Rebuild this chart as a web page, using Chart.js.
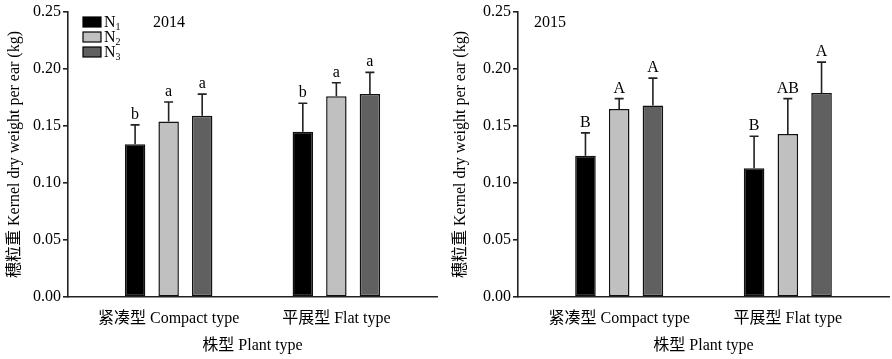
<!DOCTYPE html>
<html>
<head>
<meta charset="utf-8">
<script src="https://cdn.jsdelivr.net/npm/chart.js@4.4.1/dist/chart.umd.min.js"></script>
<style>
html, body { margin: 0; padding: 0; background: #fff; }
#wrap { position: relative; width: 892px; height: 359px; }
.panel { position: absolute; top: 0; width: 446px; height: 359px; }
</style>
</head>
<body>
<div id="wrap">
  <div class="panel" style="left:0"><canvas id="c2014" width="446" height="359"></canvas></div>
  <div class="panel" style="left:446px"><canvas id="c2015" width="446" height="359"></canvas></div>
</div>
<script>
// categories / series
const plantTypes = ['紧凑型 Compact type', '平展型 Flat type'];
const seriesNames = ['N1', 'N2', 'N3'];
const seriesColors = ['#000000', '#c0c0c0', '#606060'];
const yTicks = [0, 0.05, 0.10, 0.15, 0.20, 0.25];

// 2014
const n1_2014 = [0.134, 0.145];
const n2_2014 = [0.154, 0.176];
const n3_2014 = [0.159, 0.178];
const n1Err_2014 = [0.017, 0.025];
const n2Err_2014 = [0.017, 0.012];
const n3Err_2014 = [0.019, 0.019];
const n1Sig_2014 = ['b', 'b'];
const n2Sig_2014 = ['a', 'a'];
const n3Sig_2014 = ['a', 'a'];

// 2015
const n1_2015 = [0.124, 0.113];
const n2_2015 = [0.165, 0.143];
const n3_2015 = [0.168, 0.179];
const n1Err_2015 = [0.020, 0.028];
const n2Err_2015 = [0.009, 0.031];
const n3Err_2015 = [0.024, 0.027];
const n1Sig_2015 = ['B', 'B'];
const n2Sig_2015 = ['A', 'AB'];
const n3Sig_2015 = ['A', 'A'];

const FONT = "'Liberation Serif', 'Times New Roman', 'Noto Sans CJK SC', serif";
const AXIS = '#222';

// error bars, significance letters, year label, legend
const extrasPlugin = {
    id: 'extras',
    afterDatasetsDraw(chart, args, opts) {
        const ctx = chart.ctx;
        const yScale = chart.scales.y;
        const area = chart.chartArea;
        ctx.save();
        chart.data.datasets.forEach((ds, di) => {
            const meta = chart.getDatasetMeta(di);
            meta.data.forEach((bar, i) => {
                const v = ds.data[i].y;
                const top = yScale.getPixelForValue(v + ds.err[i]);
                ctx.strokeStyle = '#222';
                ctx.lineWidth = 1.6;
                ctx.beginPath();
                ctx.moveTo(bar.x, bar.y);
                ctx.lineTo(bar.x, top);
                ctx.moveTo(bar.x - 4.5, top);
                ctx.lineTo(bar.x + 4.5, top);
                ctx.stroke();
                ctx.fillStyle = '#000';
                ctx.font = '16px ' + FONT;
                ctx.textAlign = 'center';
                ctx.textBaseline = 'alphabetic';
                ctx.fillText(ds.sig[i], bar.x, top - 6);
            });
        });

        // year label
        ctx.font = '16px ' + FONT;
        ctx.textAlign = 'left';
        ctx.textBaseline = 'alphabetic';
        ctx.fillStyle = '#000';
        ctx.fillText(opts.year, area.left + opts.yearX, area.top + 15);

        if (opts.legend) {
            const x0 = area.left + 15;
            chart.data.datasets.forEach((ds, di) => {
                const y0 = area.top + 5 + di * 15;
                ctx.fillStyle = ds.backgroundColor;
                ctx.fillRect(x0, y0, 18, 10);
                ctx.strokeStyle = '#000';
                ctx.lineWidth = 1.2;
                ctx.strokeRect(x0, y0, 18, 10);
                ctx.fillStyle = '#000';
                ctx.font = '16px ' + FONT;
                ctx.fillText('N', x0 + 21, y0 + 10);
                const w = ctx.measureText('N').width;
                ctx.font = '10px ' + FONT;
                ctx.fillText(ds.label.slice(1), x0 + 21 + w, y0 + 13);
            });
        }
        ctx.restore();
    }
};

function makeChart(id, year, vals, errs, sigs, legend, padLeft, padRight, yearX) {
    const datasets = seriesNames.map((name, k) => ({
        label: name,
        data: plantTypes.map((_, i) => ({ x: i + 1, y: vals[k][i] })),
        err: errs[k],
        sig: sigs[k],
        backgroundColor: seriesColors[k],
        borderColor: '#111',
        borderWidth: 1.5,
        borderSkipped: false,
        categoryPercentage: 0.6,
        barPercentage: 0.61
    }));

    return new Chart(document.getElementById(id), {
        type: 'bar',
        data: { datasets },
        plugins: [extrasPlugin],
        options: {
            responsive: false,
            animation: false,
            layout: { padding: { top: 12, right: padRight, bottom: 0, left: 0 } },
            plugins: {
                legend: { display: false },
                tooltip: { enabled: false },
                extras: { year, legend, yearX }
            },
            scales: {
                x: {
                    type: 'linear',
                    offset: false,
                    min: 0.4,
                    max: 2.6,
                    afterBuildTicks: (s) => { s.ticks = plantTypes.map((_, i) => ({ value: i + 1 })); },
                    afterFit: (s) => { s.height = 62; },
                    grid: { display: false, offset: false },
                    border: { display: true, color: AXIS, width: 1.6 },
                    ticks: {
                        autoSkip: false,
                        maxRotation: 0,
                        padding: 4,
                        color: '#000',
                        font: { family: FONT, size: 16 },
                        callback: (v) => plantTypes[Math.round(v) - 1]
                    },
                    title: {
                        display: true,
                        text: '株型 Plant type',
                        color: '#000',
                        font: { family: FONT, size: 16 },
                        padding: { top: 0, bottom: 4 }
                    }
                },
                y: {
                    min: 0,
                    max: 0.25,
                    afterBuildTicks: (s) => { s.ticks = yTicks.map(v => ({ value: v })); },
                    afterFit: (s) => { s.width = padLeft; },
                    grid: {
                        display: true,
                        drawOnChartArea: false,
                        drawTicks: true,
                        tickLength: 5,
                        color: AXIS,
                        lineWidth: 1.6
                    },
                    border: { display: true, color: AXIS, width: 1.6 },
                    ticks: {
                        padding: 2,
                        color: '#000',
                        font: { family: FONT, size: 16 },
                        callback: (v) => v.toFixed(2)
                    },
                    title: {
                        display: true,
                        text: '穗粒重 Kernel dry weight per ear (kg)',
                        color: '#000',
                        font: { family: FONT, size: 16 },
                        padding: { top: 5, bottom: 0 }
                    }
                }
            }
        }
    });
}

makeChart('c2014', '2014',
    [n1_2014, n2_2014, n3_2014],
    [n1Err_2014, n2Err_2014, n3Err_2014],
    [n1Sig_2014, n2Sig_2014, n3Sig_2014],
    true, 68, 9, 85);

makeChart('c2015', '2015',
    [n1_2015, n2_2015, n3_2015],
    [n1Err_2015, n2Err_2015, n3Err_2015],
    [n1Sig_2015, n2Sig_2015, n3Sig_2015],
    false, 72, 3, 16);
</script>
</body>
</html>
